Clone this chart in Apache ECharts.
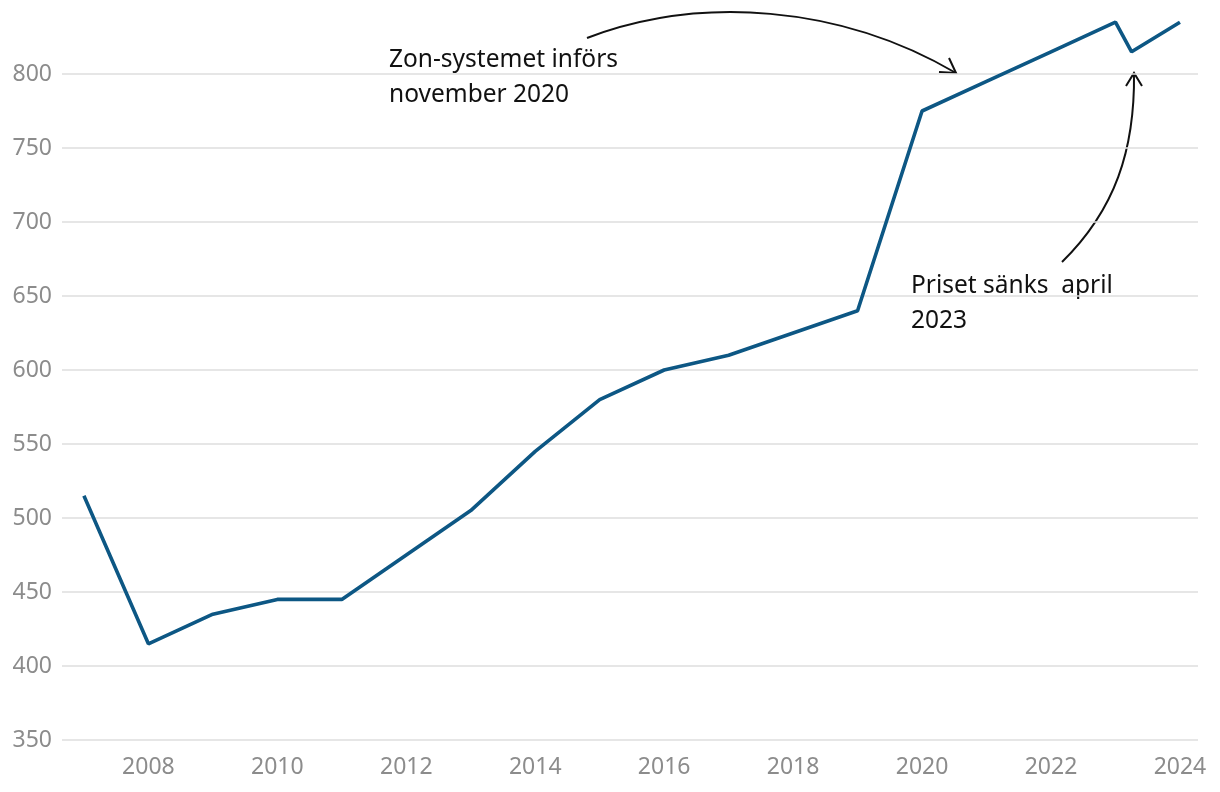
<!DOCTYPE html>
<html>
<head>
<meta charset="utf-8">
<script src="https://cdn.jsdelivr.net/npm/echarts@6/dist/echarts.min.js"></script>
<style>
html,body{margin:0;padding:0;background:#fff;}
#c{width:1220px;height:792px;}
</style>
</head>
<body>
<div id="c"></div>
<script>
const years = [2007, 2008, 2009, 2010, 2011, 2012, 2013, 2014, 2015, 2016, 2017, 2018, 2019, 2020, 2021, 2022, 2023, 2023.25, 2024];
const prices = [515, 415, 435, 445, 445, 475, 505, 545, 580, 600, 610, 625, 640, 775, 795, 815, 835, 815, 835];
const xTickLabels = [2008, 2010, 2012, 2014, 2016, 2018, 2020, 2022, 2024];
const yTickLabels = [350, 400, 450, 500, 550, 600, 650, 700, 750, 800];
const note1 = 'Zon-systemet införs\nnovember 2020';
const note2 = 'Priset sänks  april\n2023';

const FONT = '"Noto Sans", "Open Sans", sans-serif';
const chart = echarts.init(document.getElementById('c'), null, {renderer: 'canvas'});
chart.setOption({
  animation: false,
  backgroundColor: '#ffffff',
  grid: {left: 62, right: 22, top: 0, bottom: 52, containLabel: false},
  xAxis: {
    type: 'value',
    min: 2006.66, max: 2024.28,
    axisLine: {show: false},
    axisTick: {show: false},
    splitLine: {show: false},
    axisLabel: {
      customValues: xTickLabels,
      color: '#8c8c8c', fontSize: 23, fontFamily: FONT, margin: 16,
      formatter: v => String(Math.round(v))
    }
  },
  yAxis: {
    type: 'value',
    min: 350, max: 850,
    axisLine: {show: false},
    axisTick: {show: false},
    splitLine: {show: false},
    axisLabel: {
      customValues: yTickLabels,
      color: '#8c8c8c', fontSize: 23, fontFamily: FONT, margin: 10,
      formatter: v => String(Math.round(v))
    }
  },
  series: [{
    type: 'line',
    z: 1,
    data: [],
    markLine: {
      z: 1,
      silent: true,
      symbol: 'none',
      label: {show: false},
      lineStyle: {color: '#dedede', width: 1.5, type: 'solid'},
      data: yTickLabels.map(v => ({yAxis: v}))
    }
  }, {
    type: 'line',
    z: 10,
    zlevel: 0,
    data: years.map((y, i) => [y, prices[i]]),
    showSymbol: false,
    lineStyle: {color: '#0d5784', width: 3.6},
    itemStyle: {color: '#0d5784'}
  }],
  graphic: [
    {type: 'text', left: 389, top: 43, style: {text: note1, font: '24.5px ' + FONT, fill: '#111', lineHeight: 35}},
    {type: 'text', left: 911, top: 269, style: {text: note2, font: '24.5px ' + FONT, fill: '#111', lineHeight: 35}},
    {type: 'bezierCurve', shape: {x1: 587, y1: 38, cpx1: 700, cpy1: -5, cpx2: 840, cpy2: 5, x2: 956, y2: 73},
      style: {stroke: '#111', lineWidth: 2, fill: null}},
    {type: 'polyline', shape: {points: [[939, 72], [956, 73], [949, 58]]}, style: {stroke: '#111', lineWidth: 2, fill: null}},
    {type: 'bezierCurve', shape: {x1: 1062, y1: 262, cpx1: 1115, cpy1: 210, cpx2: 1135, cpy2: 150, x2: 1134, y2: 73},
      style: {stroke: '#111', lineWidth: 2, fill: null}},
    {type: 'polyline', shape: {points: [[1126, 86], [1134, 73], [1142, 86]]}, style: {stroke: '#111', lineWidth: 2, fill: null}}
  ]
});
</script>
</body>
</html>
